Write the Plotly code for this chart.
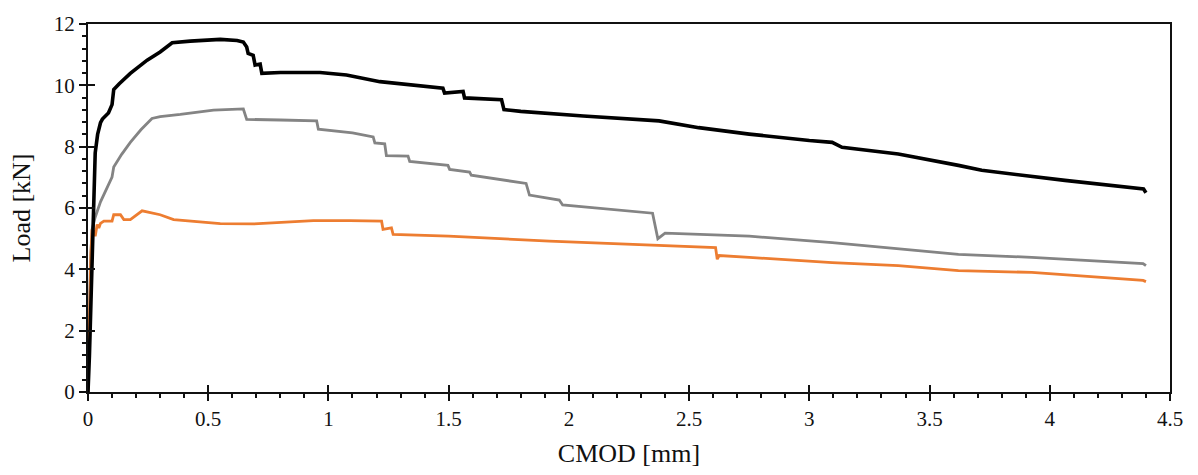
import plotly.graph_objects as go

# ---- data ----
black_x = [0, 0.003, 0.006, 0.01, 0.015, 0.02, 0.024, 0.03, 0.04, 0.052, 0.06, 0.073, 0.085, 0.10, 0.107, 0.13,
           0.176, 0.246, 0.30, 0.35, 0.38, 0.425, 0.55, 0.62, 0.646, 0.66, 0.666, 0.687, 0.695, 0.716, 0.723,
           0.80, 0.965, 1.075, 1.214, 1.30, 1.476, 1.483, 1.56, 1.566, 1.72, 1.73, 1.80, 2.06, 2.375, 2.54,
           2.75, 3.0, 3.095, 3.136, 3.37, 3.62, 3.717, 4.063, 4.39, 4.40]
black_y = [0, 0.5, 1.2, 2.3, 4.0, 5.6, 6.9, 7.8, 8.4, 8.78, 8.9, 9.0, 9.1, 9.37, 9.86, 10.05,
           10.39, 10.82, 11.09, 11.39, 11.42, 11.44, 11.5, 11.46, 11.41, 11.25, 11.04, 10.98, 10.66, 10.69, 10.39,
           10.42, 10.42, 10.34, 10.12, 10.05, 9.91, 9.75, 9.8, 9.59, 9.53, 9.21, 9.15, 9.0, 8.84, 8.62,
           8.41, 8.2, 8.14, 7.98, 7.76, 7.39, 7.23, 6.9, 6.62, 6.5]

gray_x = [0, 0.005, 0.01, 0.017, 0.03, 0.052, 0.075, 0.093, 0.10, 0.107, 0.14, 0.176, 0.22, 0.266, 0.30,
          0.384, 0.522, 0.646, 0.66, 0.80, 0.951, 0.958, 1.10, 1.186, 1.193, 1.234, 1.241, 1.331, 1.338,
          1.497, 1.504, 1.587, 1.594, 1.822, 1.836, 1.96, 1.974, 2.348, 2.362, 2.37, 2.40, 2.75, 3.095,
          3.37, 3.62, 3.925, 4.388, 4.40]
gray_y = [0, 2.5, 4.2, 5.3, 5.7, 6.2, 6.6, 6.9, 7.01, 7.34, 7.75, 8.14, 8.55, 8.92, 8.98,
          9.05, 9.19, 9.23, 8.89, 8.87, 8.84, 8.57, 8.45, 8.32, 8.12, 8.09, 7.71, 7.69, 7.52,
          7.39, 7.26, 7.17, 7.07, 6.80, 6.42, 6.26, 6.1, 5.83, 5.24, 5.0, 5.18, 5.08, 4.87,
          4.66, 4.49, 4.39, 4.19, 4.12]

orange_x = [0, 0.003, 0.008, 0.012, 0.017, 0.024, 0.03, 0.038, 0.045, 0.052, 0.066, 0.10, 0.107, 0.135,
            0.149, 0.176, 0.225, 0.30, 0.356, 0.55, 0.688, 0.937, 1.089, 1.221, 1.227, 1.262, 1.269, 1.50,
            1.919, 2.20, 2.61, 2.617, 2.625, 2.75, 3.095, 3.37, 3.62, 3.925, 4.388, 4.40]
orange_y = [0, 1.5, 3.5, 4.5, 5.3, 5.24, 5.08, 5.46, 5.35, 5.5, 5.57, 5.57, 5.78, 5.78,
            5.62, 5.62, 5.91, 5.78, 5.62, 5.49, 5.48, 5.59, 5.59, 5.57, 5.30, 5.35, 5.14, 5.08,
            4.92, 4.84, 4.71, 4.33, 4.45, 4.39, 4.22, 4.12, 3.96, 3.9, 3.64, 3.6]

x_range = [0, 4.5]
y_range = [0, 12]
x_major, x_minor = 0.5, 0.1
y_major, y_minor = 2, 0.4
x_title = "CMOD [mm]"
y_title = "Load [kN]"

FONT = "Liberation Serif"
TICKFONT = dict(family=FONT, size=21, color="#111111")
TITLEFONT = dict(family=FONT, size=26, color="#111111")
TICKC = "#111111"

fig = go.Figure()
fig.add_trace(go.Scatter(x=gray_x, y=gray_y, mode="lines", line=dict(color="#848484", width=2.8),
                         showlegend=False))
fig.add_trace(go.Scatter(x=orange_x, y=orange_y, mode="lines", line=dict(color="#ED7D31", width=2.8),
                         showlegend=False))
fig.add_trace(go.Scatter(x=black_x, y=black_y, mode="lines", line=dict(color="#000000", width=3.6),
                         showlegend=False))
# invisible traces that only create overlay axes (minor ticks, inward major ticks, top/right frame)
for k in (2, 3, 4):
    fig.add_trace(go.Scatter(x=[black_x[0]], y=[black_y[0]], xaxis=f"x{k}", yaxis=f"y{k}", mode="markers",
                             marker=dict(opacity=0), showlegend=False))

fig.update_layout(
    width=1198, height=475,
    margin=dict(l=88, r=28, t=20, b=83),
    paper_bgcolor="white", plot_bgcolor="white",
    xaxis=dict(range=x_range, dtick=x_major, ticks="outside", ticklen=7, tickwidth=2, tickcolor=TICKC,
               showline=True, linewidth=2, linecolor=TICKC, showgrid=False,
               title=dict(text=x_title, font=TITLEFONT, standoff=14), tickfont=TICKFONT),
    yaxis=dict(range=y_range, dtick=y_major, ticks="outside", ticklen=7, tickwidth=2, tickcolor=TICKC,
               showline=True, linewidth=2, linecolor=TICKC, showgrid=False,
               title=dict(text=y_title, font=TITLEFONT, standoff=16), tickfont=TICKFONT),
    # minor ticks (outside)
    xaxis2=dict(range=x_range, overlaying="x", anchor="y2", side="bottom", dtick=x_minor,
                ticks="outside", ticklen=5, tickwidth=1.5, tickcolor=TICKC, showgrid=False,
                showticklabels=False),
    yaxis2=dict(range=y_range, overlaying="y", anchor="x2", side="left", dtick=y_minor,
                ticks="outside", ticklen=5, tickwidth=1.5, tickcolor=TICKC, showgrid=False,
                showticklabels=False),
    # inward half of the crossing major ticks
    xaxis3=dict(range=x_range, overlaying="x", anchor="y3", side="bottom", dtick=x_major,
                ticks="inside", ticklen=7, tickwidth=2, tickcolor=TICKC, showgrid=False,
                showticklabels=False),
    yaxis3=dict(range=y_range, overlaying="y", anchor="x3", side="left", dtick=y_major,
                ticks="inside", ticklen=7, tickwidth=2, tickcolor=TICKC, showgrid=False,
                showticklabels=False),
    # top and right frame lines
    xaxis4=dict(range=x_range, overlaying="x", anchor="y4", side="top", showline=True, linewidth=2,
                linecolor=TICKC, ticks="", showticklabels=False, showgrid=False),
    yaxis4=dict(range=y_range, overlaying="y", anchor="x4", side="right", showline=True, linewidth=2,
                linecolor=TICKC, ticks="", showticklabels=False, showgrid=False),
)

fig.write_html("out.html")
